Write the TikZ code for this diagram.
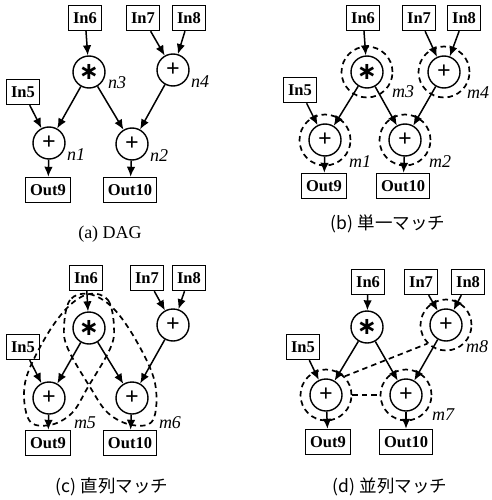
\documentclass[tikz,border=0pt]{standalone}
\usepackage{fontspec}
\setmainfont{Liberation Serif}
\newfontfamily\jpfont{Noto Sans CJK JP}
\newfontfamily\symfont{DejaVu Sans}
\usetikzlibrary{arrows.meta}
\begin{document}
\begin{tikzpicture}[x=1pt,y=-1pt,
  font=\fontsize{16.5}{18}\selectfont\bfseries,
  box/.style={draw, line width=1.4pt, minimum width=32pt, minimum height=25pt, inner xsep=4.5pt, inner ysep=2pt},
  op/.style={draw, circle, line width=1.4pt, minimum size=32pt, inner sep=0pt},
  arr/.style={line width=1.5pt, -{Latex[length=10pt,width=8.5pt]}},
  grp/.style={draw, circle, line width=1.7pt, dash pattern=on 5.5pt off 4pt, minimum size=51pt, inner sep=0pt},
  dsh/.style={line width=1.7pt, dash pattern=on 5.5pt off 4pt},
  lab/.style={font=\fontsize{18}{18}\selectfont\itshape, inner sep=0pt},
  captxt/.style={font=\fontsize{18}{18}\selectfont, inner sep=0pt},
  jcap/.style={font=\jpfont\fontsize{17.5}{18}\selectfont, inner sep=0pt}]
\useasboundingbox (0,0) rectangle (491,500);
\newcommand{\mul}{\symfont\bfseries\fontsize{24}{24}\selectfont ∗}
\newcommand{\pls}{\fontsize{24}{24}\selectfont\bfseries +}

% ---------------- (a) DAG
\node[box] (a6) at (85,18) {In6};
\node[box] (a7) at (143,18) {In7};
\node[box] (a8) at (189,18) {In8};
\node[op] (an3) at (89,72) {\mul};
\node[op] (an4) at (173,70) {\pls};
\node[box] (a5) at (23,92) {In5};
\node[op] (an1) at (49,143) {\pls};
\node[op] (an2) at (132,144) {\pls};
\node[box] (a9) at (48,190) {Out9};
\node[box] (a10) at (130,190) {Out10};
\draw[arr] (a6) -- (an3);
\draw[arr] (a7) -- (an4);
\draw[arr] (a8) -- (an4);
\draw[arr] (an3) -- (an1);
\draw[arr] (an3) -- (an2);
\draw[arr] (an4) -- (an2);
\draw[arr] (a5) -- (an1);
\draw[arr] (an1) -- (a9);
\draw[arr] (an2) -- (a10);
\node[lab] (lan3) at (117,83) {n3};
\node[lab] (lan4) at (200,82) {n4};
\node[lab] (lan1) at (76,155) {n1};
\node[lab] (lan2) at (159,156) {n2};
\node[captxt] (capa) at (110,234) {(a) DAG};

% ---------------- (b) single match
\node[box] (b6) at (363,18) {In6};
\node[box] (b7) at (419,18) {In7};
\node[box] (b8) at (464,18) {In8};
\node[op] (bn3) at (367,72) {\mul};
\node[op] (bn4) at (444,72) {\pls};
\node[box] (b5) at (300,90) {In5};
\node[op] (bn1) at (325,140) {\pls};
\node[op] (bn2) at (405,140) {\pls};
\node[box] (b9) at (324,186) {Out9};
\node[box] (b10) at (403,186) {Out10};
\node[grp] (gm3) at (bn3) {};
\node[grp] (gm4) at (bn4) {};
\node[grp] (gm1) at (bn1) {};
\node[grp] (gm2) at (bn2) {};
\draw[arr] (b6) -- (bn3);
\draw[arr] (b7) -- (bn4);
\draw[arr] (b8) -- (bn4);
\draw[arr] (bn3) -- (bn1);
\draw[arr] (bn3) -- (bn2);
\draw[arr] (bn4) -- (bn2);
\draw[arr] (b5) -- (bn1);
\draw[arr] (bn1) -- (b9);
\draw[arr] (bn2) -- (b10);
\node[lab] (lm3) at (403,92) {m3};
\node[lab] (lm4) at (478,93) {m4};
\node[lab] (lm1) at (360,162) {m1};
\node[lab] (lm2) at (440,162) {m2};
\node[jcap] (capb) at (388,224) {(b) 単一マッチ};

% ---------------- (c) serial match
\node[box] (c6) at (86,278) {In6};
\node[box] (c7) at (147,278) {In7};
\node[box] (c8) at (189,278) {In8};
\node[op] (cn3) at (89,328) {\mul};
\node[op] (cn4) at (173,325) {\pls};
\node[box] (c5) at (23,347) {In5};
\node[op] (cn1) at (49,398) {\pls};
\node[op] (cn2) at (132,398) {\pls};
\node[box] (c9) at (48,443) {Out9};
\node[box] (c10) at (130,443) {Out10};
\draw[arr] (c6) -- (cn3);
\draw[arr] (c7) -- (cn4);
\draw[arr] (c8) -- (cn4);
\draw[arr] (cn3) -- (cn1);
\draw[arr] (cn3) -- (cn2);
\draw[arr] (cn4) -- (cn2);
\draw[arr] (c5) -- (cn1);
\draw[arr] (cn1) -- (c9);
\draw[arr] (cn2) -- (c10);
\draw[dsh] plot[smooth cycle, tension=0.6] coordinates {(89,294) (108,300) (114,327) (110,349) (88,387) (72,413) (50,425) (29,420) (25,383) (44,340) (67,308)};
\draw[dsh] plot[smooth cycle, tension=0.6] coordinates {(89,294) (70,300) (64,327) (68,349) (90,387) (108,413) (132,425) (153,420) (155,383) (137,342) (113,308)};
\node[lab] (lm5) at (85,423) {m5};
\node[lab] (lm6) at (170,423) {m6};
\node[jcap] (capc) at (112,487) {(c) 直列マッチ};

% ---------------- (d) parallel match
\node[box] (d6) at (368,282) {In6};
\node[box] (d7) at (421,282) {In7};
\node[box] (d8) at (468,282) {In8};
\node[op] (dn3) at (367,327) {\mul};
\node[op] (dn4) at (446,325) {\pls};
\node[box] (d5) at (303,347) {In5};
\node[op] (dn1) at (326,395) {\pls};
\node[op] (dn2) at (406,395) {\pls};
\node[box] (d9) at (328,442) {Out9};
\node[box] (d10) at (406,442) {Out10};
\node[grp] (gd4) at (dn4) {};
\node[grp] (gd1) at (dn1) {};
\node[grp] (gd2) at (dn2) {};
\draw[arr] (d6) -- (dn3);
\draw[arr] (d7) -- (dn4);
\draw[arr] (d8) -- (dn4);
\draw[arr] (dn3) -- (dn1);
\draw[arr] (dn3) -- (dn2);
\draw[arr] (dn4) -- (dn2);
\draw[arr] (d5) -- (dn1);
\draw[arr] (dn1) -- (d9);
\draw[arr] (dn2) -- (d10);
\draw[dsh] (gd1.45) -- (gd4.225);
\draw[dsh] (gd1.east) -- (gd2.west);
\node[lab] (lm8) at (477,347) {m8};
\node[lab] (lm7) at (443,415) {m7};
\node[jcap] (capd) at (390,487) {(d) 並列マッチ};
\end{tikzpicture}
\end{document}
